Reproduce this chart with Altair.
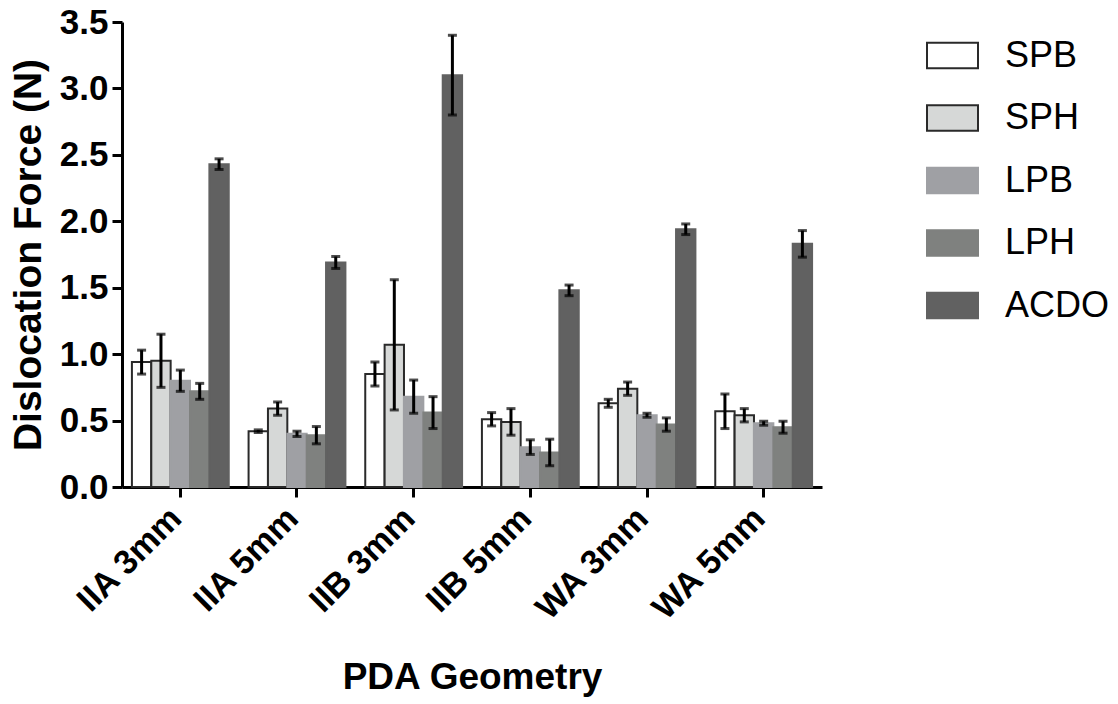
import altair as alt
import pandas as pd

geometries = ["IIA 3mm", "IIA 5mm", "IIB 3mm", "IIB 5mm", "WA 3mm", "WA 5mm"]
series = ["SPB", "SPH", "LPB", "LPH", "ACDO"]

spb_mean = [0.94, 0.42, 0.85, 0.51, 0.63, 0.57]
spb_err = [0.09, 0.01, 0.09, 0.05, 0.03, 0.13]
sph_mean = [0.95, 0.59, 1.07, 0.49, 0.74, 0.54]
sph_err = [0.20, 0.05, 0.49, 0.10, 0.05, 0.05]
lpb_mean = [0.80, 0.40, 0.68, 0.30, 0.54, 0.48]
lpb_err = [0.08, 0.02, 0.125, 0.055, 0.015, 0.015]
lph_mean = [0.72, 0.39, 0.56, 0.26, 0.47, 0.45]
lph_err = [0.06, 0.065, 0.12, 0.10, 0.05, 0.045]
acdo_mean = [2.43, 1.69, 3.10, 1.48, 1.94, 1.83]
acdo_err = [0.04, 0.045, 0.30, 0.04, 0.04, 0.10]

fills = ["#ffffff", "#d6d8d7", "#9fa0a4", "#7f817f", "#616161"]
strokes = ["#2a2a2a", "#2a2a2a", "#9fa0a4", "#7f817f", "#616161"]

means = [spb_mean, sph_mean, lpb_mean, lph_mean, acdo_mean]
errs = [spb_err, sph_err, lpb_err, lph_err, acdo_err]
rows = []
for s, m, e in zip(series, means, errs):
    for g, mv, ev in zip(geometries, m, e):
        rows.append({"geometry": g, "series": s, "mean": mv, "lo": mv - ev, "hi": mv + ev})
df = pd.DataFrame(rows)

FONT = "Liberation Sans"

x_enc = alt.X(
    "geometry:N",
    sort=geometries,
    scale=alt.Scale(paddingInner=0.17, paddingOuter=0.085),
    axis=alt.Axis(
        title="PDA Geometry",
        titleFont=FONT, titleFontSize=37, titleFontWeight="bold", titleColor="black",
        titlePadding=33,
        labelFont=FONT, labelFontSize=34, labelFontWeight="bold", labelColor="black",
        labelAngle=-45, labelAlign="right", labelBaseline="top", labelPadding=4,
        labelOffset=-16,
        domainColor="black", domainWidth=3, tickColor="black", tickWidth=3, tickSize=10,
        grid=False,
    ),
)
xo_enc = alt.XOffset("series:N", sort=series, scale=alt.Scale(domain=series, paddingInner=0, paddingOuter=0))
y_scale = alt.Scale(domain=[0, 3.5], nice=False)
y_axis = alt.Axis(
    title="Dislocation Force (N)",
    titleFont=FONT, titleFontSize=39, titleFontWeight="bold", titleColor="black",
    titlePadding=11,
    labelFont=FONT, labelFontSize=35, labelFontWeight="bold", labelColor="black",
    values=[0, 0.5, 1.0, 1.5, 2.0, 2.5, 3.0, 3.5], format=".1f", labelPadding=4,
    domainColor="black", domainWidth=3, tickColor="black", tickWidth=3, tickSize=10,
    grid=False,
)

legend = alt.Legend(
    title=None, orient="none", legendX=804, legendY=7, padding=0,
    symbolType="M-1,-0.5H1V0.5H-1Z", symbolSize=2601, symbolStrokeWidth=2,
    labelFont=FONT, labelFontSize=36, labelColor="black", labelOffset=26,
    rowPadding=17.5,
)

base = alt.Chart(df)
bars = base.mark_bar(strokeWidth=2).encode(
    x=x_enc,
    xOffset=xo_enc,
    y=alt.Y("mean:Q", scale=y_scale, axis=y_axis),
    fill=alt.Fill("series:N", sort=series, scale=alt.Scale(domain=series, range=fills), legend=legend),
    stroke=alt.Stroke("series:N", sort=series, scale=alt.Scale(domain=series, range=strokes), legend=legend),
)
rules = base.mark_rule(strokeWidth=3, color="black").encode(
    x=x_enc, xOffset=xo_enc, y=alt.Y("lo:Q", scale=y_scale), y2="hi:Q"
)
cap_hi = base.mark_tick(color="black", thickness=3, size=9, orient="horizontal").encode(
    x=x_enc, xOffset=xo_enc, y=alt.Y("hi:Q", scale=y_scale)
)
cap_lo = base.mark_tick(color="black", thickness=3, size=9, orient="horizontal").encode(
    x=x_enc, xOffset=xo_enc, y=alt.Y("lo:Q", scale=y_scale)
)

chart = alt.layer(bars, rules, cap_hi, cap_lo).properties(
    width=700, height=465,
    autosize=alt.AutoSizeParams(type="none"),
    padding={"left": 122, "top": 22, "right": 296, "bottom": 217},
    background="white",
).configure_view(stroke="transparent")

chart.save("out.html", embed_options={"renderer": "svg", "actions": False})
